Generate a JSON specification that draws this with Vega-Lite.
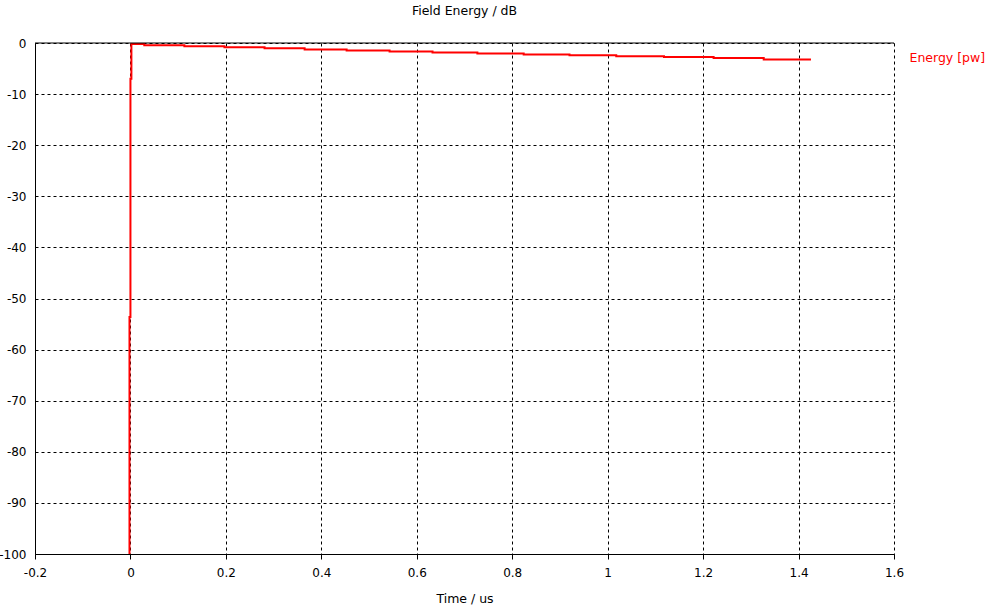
{
  "$schema": "https://vega.github.io/schema/vega-lite/v6.json",
  "width": 859,
  "height": 511,
  "autosize": "none",
  "padding": {"left": 35, "top": 43, "right": 109, "bottom": 61},
  "background": "white",
  "title": {"text": "Field Energy / dB", "fontSize": 12.5, "fontWeight": "normal", "font": "DejaVu Sans", "color": "#000000", "anchor": "middle", "offset": 20},
  "config": {
    "view": {"stroke": null},
    "axis": {"labelFont": "DejaVu Sans", "titleFont": "DejaVu Sans", "labelFontSize": 12, "titleFontSize": 12.5, "titleFontWeight": "normal", "labelColor": "#000000", "titleColor": "#000000", "domainColor": "#000000", "domainWidth": 1, "tickColor": "#000000", "gridColor": "#000000", "gridDash": [3, 3], "gridOpacity": 1, "gridWidth": 1}
  },
  "datasets": {
    "energy": [
      {"t": -0.0025, "db": -100, "s": "Energy [pw]"},
      {"t": -0.002, "db": -53.6, "s": "Energy [pw]"},
      {"t": 0.0, "db": -7.0, "s": "Energy [pw]"},
      {"t": 0.002, "db": -0.2, "s": "Energy [pw]"},
      {"t": 0.029, "db": -0.45, "s": "Energy [pw]"},
      {"t": 0.113, "db": -0.65, "s": "Energy [pw]"},
      {"t": 0.197, "db": -0.85, "s": "Energy [pw]"},
      {"t": 0.281, "db": -1.05, "s": "Energy [pw]"},
      {"t": 0.365, "db": -1.25, "s": "Energy [pw]"},
      {"t": 0.453, "db": -1.45, "s": "Energy [pw]"},
      {"t": 0.543, "db": -1.65, "s": "Energy [pw]"},
      {"t": 0.633, "db": -1.85, "s": "Energy [pw]"},
      {"t": 0.727, "db": -2.05, "s": "Energy [pw]"},
      {"t": 0.824, "db": -2.25, "s": "Energy [pw]"},
      {"t": 0.92, "db": -2.42, "s": "Energy [pw]"},
      {"t": 1.018, "db": -2.6, "s": "Energy [pw]"},
      {"t": 1.118, "db": -2.75, "s": "Energy [pw]"},
      {"t": 1.222, "db": -2.95, "s": "Energy [pw]"},
      {"t": 1.327, "db": -3.25, "s": "Energy [pw]"},
      {"t": 1.426, "db": -3.25, "s": "Energy [pw]"}
    ],
    "frame": [{"y": 0}]
  },
  "layer": [
    {
      "data": {"name": "energy"},
      "mark": {"type": "line", "interpolate": "step-after", "strokeWidth": 2, "clip": true},
      "encoding": {
        "x": {"field": "t", "type": "quantitative", "scale": {"domain": [-0.2, 1.6], "nice": false, "zero": false},
          "axis": {"title": "Time / us", "values": [-0.2, 0, 0.2, 0.4, 0.6, 0.8, 1, 1.2, 1.4, 1.6], "labelExpr": "replace(format(datum.value, '.1~f'), '\u2212', '-')", "tickSize": 5, "labelPadding": 8, "titlePadding": 14, "grid": true, "labelFlush": false}},
        "y": {"field": "db", "type": "quantitative", "scale": {"domain": [-100, 0], "nice": false},
          "axis": {"title": null, "values": [0, -10, -20, -30, -40, -50, -60, -70, -80, -90, -100], "labelExpr": "replace(format(datum.value, 'd'), '\u2212', '-')", "ticks": false, "labelPadding": 9, "grid": true}},
        "color": {"field": "s", "type": "nominal", "scale": {"range": ["#ff0000"]},
          "legend": {"title": null, "orient": "none", "legendX": 862, "legendY": 9, "symbolSize": 0, "symbolStrokeWidth": 0, "labelOffset": 0, "labelColor": "#ff0000", "labelFont": "DejaVu Sans", "labelFontSize": 12.5}}
      }
    },
    {
      "data": {"name": "frame"},
      "mark": {"type": "rule", "color": "#000000", "strokeWidth": 1},
      "encoding": {"y": {"field": "y", "type": "quantitative"}}
    }
  ]
}
